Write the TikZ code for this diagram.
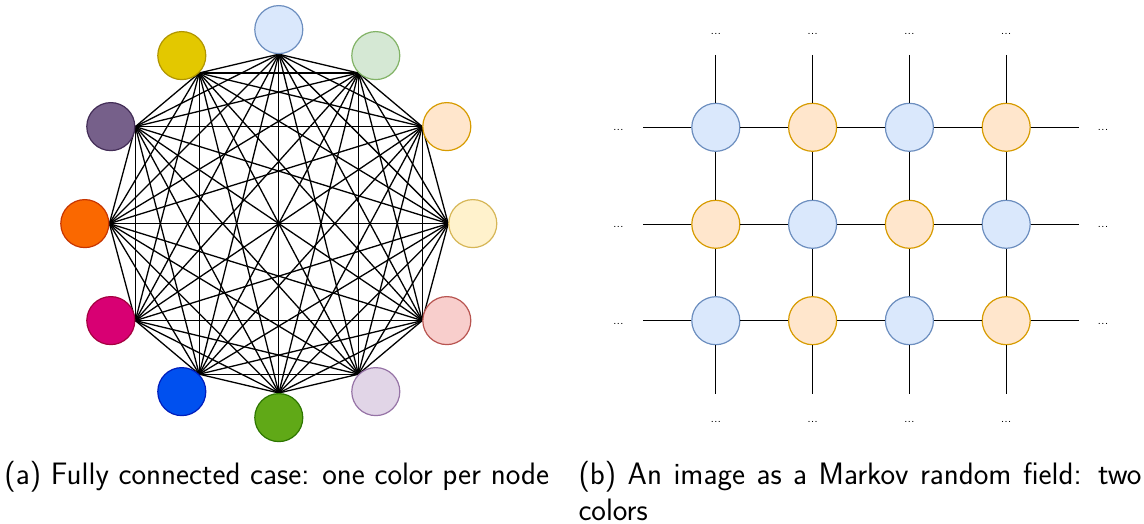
\documentclass[tikz,border=0pt]{standalone}
\usetikzlibrary{backgrounds,calc}
\definecolor{f0}{HTML}{FFF2CC}\definecolor{d0}{HTML}{D6B656}
\definecolor{f1}{HTML}{FFE6CC}\definecolor{d1}{HTML}{D79B00}
\definecolor{f2}{HTML}{D5E8D4}\definecolor{d2}{HTML}{82B366}
\definecolor{f3}{HTML}{DAE8FC}\definecolor{d3}{HTML}{6C8EBF}
\definecolor{f4}{HTML}{E3C800}\definecolor{d4}{HTML}{B09500}
\definecolor{f5}{HTML}{76608A}\definecolor{d5}{HTML}{432D57}
\definecolor{f6}{HTML}{FA6800}\definecolor{d6}{HTML}{C73500}
\definecolor{f7}{HTML}{D80073}\definecolor{d7}{HTML}{A50040}
\definecolor{f8}{HTML}{0050EF}\definecolor{d8}{HTML}{001DBC}
\definecolor{f9}{HTML}{60A917}\definecolor{d9}{HTML}{2D7600}
\definecolor{f10}{HTML}{E1D5E7}\definecolor{d10}{HTML}{9673A6}
\definecolor{f11}{HTML}{F8CECC}\definecolor{d11}{HTML}{B85450}
\begin{document}
\begin{tikzpicture}[x=1pt,y=1pt,
  circ/.style={circle, minimum size=48pt, inner sep=0pt, line width=1.2pt},
  gb/.style={fill=f3, draw=d3},
  go/.style={fill=f1, draw=d1},
  linkline/.style={line width=1.3pt, black},
  dotstxt/.style={font=\sffamily\fontsize{13pt}{13pt}\selectfont, inner sep=0pt, anchor=base},
  captext/.style={font=\sffamily\fontsize{31pt}{36pt}\selectfont, inner sep=0pt, anchor=base west}]
\useasboundingbox (0,0) rectangle (1144,-524);
% ---- (a) fully connected graph ----
\coordinate (ctr) at (278.8,-223.6);
\foreach \i in {0,...,11}{
  \node[circ, fill=f\i, draw=d\i] (n\i) at ($(ctr)+(\i*30:194)$) {};
}
\begin{scope}[on background layer]
\foreach \i/\ai in {0/west,1/west,2/south west,3/south,4/south east,5/east,6/east,7/east,8/north east,9/north,10/north west,11/west}{
  \foreach \j/\aj in {0/west,1/west,2/south west,3/south,4/south east,5/east,6/east,7/east,8/north east,9/north,10/north west,11/west}{
    \ifnum\j>\i \draw[linkline] (n\i.\ai) -- (n\j.\aj); \fi
  }
}
\end{scope}
% ---- (b) grid MRF ----
\foreach \r/\y in {0/127.3,1/224.3,2/320.7}{
  \foreach \c/\x in {0/715.8,1/812.6,2/909.4,3/1006.2}{
    \pgfmathtruncatemacro\pty{mod(\r+\c,2)}
    \ifnum\pty=0
      \node[circ, gb] (g\r\c) at (\x,-\y) {};
    \else
      \node[circ, go] (g\r\c) at (\x,-\y) {};
    \fi
  }
  \coordinate (hl\r) at (643,-\y);
  \coordinate (hr\r) at (1079.4,-\y);
  \draw[linkline] (hl\r) -- (g\r0) -- (g\r1) -- (g\r2) -- (g\r3) -- (hr\r);
  \pgfmathsetmacro\yb{\y+3.5}
  \node[dotstxt] (dl\r) at (618.3,-\yb) {...};
  \node[dotstxt] (dr\r) at (1103,-\yb) {...};
}
\foreach \c/\x in {0/715.8,1/812.6,2/909.4,3/1006.2}{
  \coordinate (vt\c) at (\x,-55);
  \coordinate (vb\c) at (\x,-394);
  \draw[linkline] (vt\c) -- (g0\c) -- (g1\c) -- (g2\c) -- (vb\c);
  \node[dotstxt] (dt\c) at (\x,-34.8) {...};
  \node[dotstxt] (db\c) at (\x,-422.5) {...};
}
% ---- captions ----
\node[captext] (capa) at (4.3,-484) {(a) Fully connected case: one color per node};
\node[captext] (capb) at (578.3,-484) {\makebox[563pt][s]{(b) An image as a Markov random field: two}};
\node[captext] (capc) at (578.3,-520) {colors};
\end{tikzpicture}
\end{document}
